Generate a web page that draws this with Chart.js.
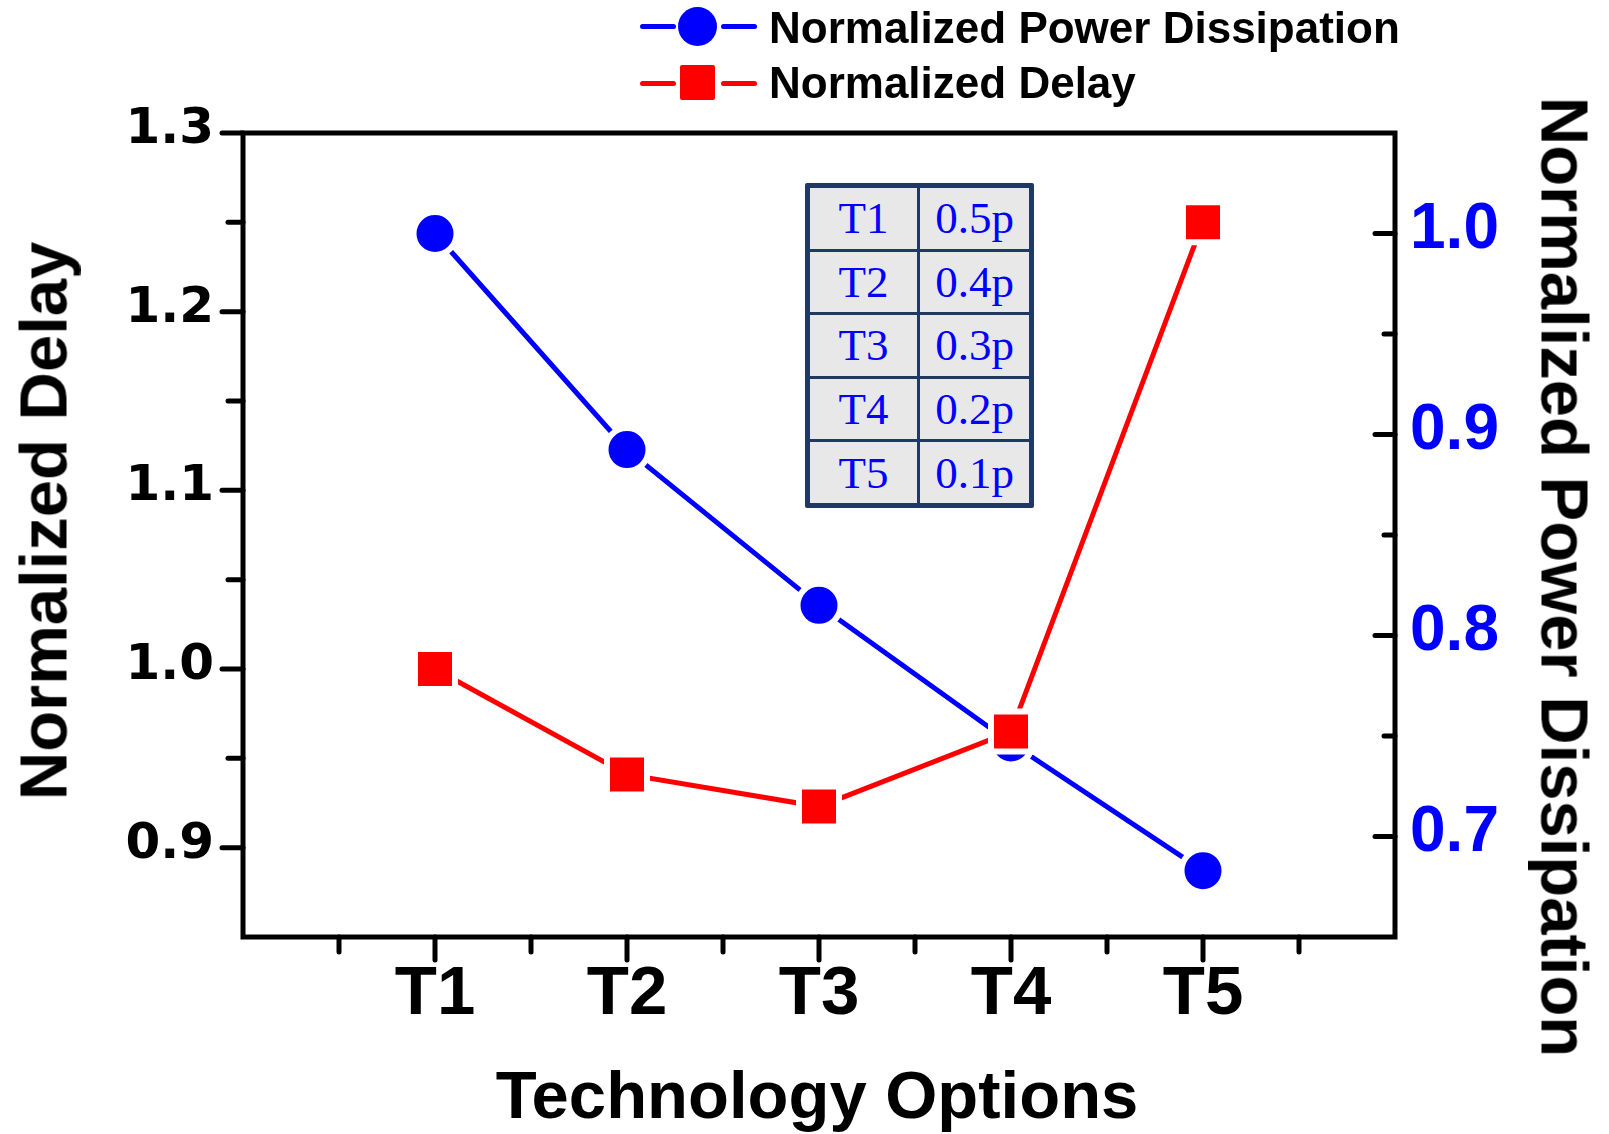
<!DOCTYPE html>
<html lang="en">
<head>
  <meta charset="UTF-8">
  <title>Normalized Delay and Power Dissipation</title>
  <script src="https://cdn.jsdelivr.net/npm/chart.js"></script>
  <style>
    body {
      margin: 0;
      background: #fff;
    }
    .wrap {
      position: relative;
      width: 1609px;
      height: 1134px;
      overflow: hidden;
      font-family: "Liberation Sans", Arial, sans-serif;
      font-weight: bold;
      color: #000;
    }
    #chart {
      position: absolute;
      left: 0;
      top: 0;
      width: 1609px;
      height: 1134px;
    }
    .title {
      position: absolute;
      font-size: 67px;
      line-height: 67px;
      white-space: nowrap;
    }
    .title.left {
      left: 43px;
      top: 521px;
      transform: translate(-50%, -50%) rotate(-90deg);
    }
    .title.right {
      left: 1565px;
      top: 577px;
      transform: translate(-50%, -50%) rotate(90deg);
    }
    .title.bottom {
      left: 817px;
      top: 1094px;
      transform: translate(-50%, -50%);
    }
    /* legend */
    .seg {
      position: absolute;
      width: 36px;
      height: 5px;
      border-radius: 3px;
    }
    .mark {
      position: absolute;
    }
    .legend-text {
      position: absolute;
      left: 769px;
      font-size: 44px;
      line-height: 44px;
      white-space: nowrap;
    }
    /* inset table */
    #pitch {
      position: absolute;
      left: 805px;
      top: 183px;
      width: 229px;
      height: 325px;
      box-sizing: border-box;
      border: 5px solid #1f3864;
      border-radius: 2px;
      border-spacing: 0;
      background: #e8e8e8;
      font-family: "Liberation Serif", "Times New Roman", serif;
      font-weight: normal;
      font-size: 45px;
      color: #0000ff;
    }
    #pitch td {
      text-align: center;
      padding: 0;
      border-right: 3px solid #1f3864;
      border-bottom: 3px solid #1f3864;
      height: 60px;
    }
    #pitch td:last-child { border-right: none; }
    #pitch tr:last-child td { border-bottom: none; }
  </style>
</head>
<body>
  <div class="wrap">
    <canvas id="chart" width="1609" height="1134"></canvas>

    <div class="seg" style="left:640px; top:24px; background:#0000ff;"></div>
    <div class="mark" style="left:678px; top:7px; width:39px; height:39px; border-radius:50%; background:#0000ff;"></div>
    <div class="seg" style="left:721px; top:24px; background:#0000ff;"></div>
    <div class="legend-text" style="top:6px;">Normalized Power Dissipation</div>

    <div class="seg" style="left:640px; top:81px; background:#ff0000;"></div>
    <div class="mark" style="left:680px; top:65px; width:35px; height:35px; border-radius:2px; background:#ff0000;"></div>
    <div class="seg" style="left:721px; top:81px; background:#ff0000;"></div>
    <div class="legend-text" style="top:61px;">Normalized Delay</div>

    <div class="title left">Normalized Delay</div>
    <div class="title right">Normalized Power Dissipation</div>
    <div class="title bottom">Technology Options</div>

    <table id="pitch"></table>
  </div>

  <script>
    // categories
    const techLabels = ['T1', 'T2', 'T3', 'T4', 'T5'];
    const techPositions = [1, 2, 3, 4, 5];
    const pitchValues = ['0.5p', '0.4p', '0.3p', '0.2p', '0.1p'];

    // series
    const delayValues = [1.0, 0.941, 0.923, 0.965, 1.25];
    const powerValues = [1.0, 0.8925, 0.815, 0.7465, 0.683];

    // tick positions
    const delayTicks = [0.9, 1.0, 1.1, 1.2, 1.3];
    const delayMinorTicks = [0.95, 1.05, 1.15, 1.25];
    const powerTicks = [0.7, 0.8, 0.9, 1.0];
    const powerMinorTicks = [0.75, 0.85, 0.95];
    const xMinorTicks = [0.5, 1.5, 2.5, 3.5, 4.5, 5.5];

    // inset table
    const table = document.getElementById('pitch');
    table.innerHTML = techLabels.map((t, i) =>
      `<tr><td style="width:107px">${t}</td><td>${pitchValues[i]}</td></tr>`).join('');

    // frame + major/minor ticks, Origin style
    const axisFrame = {
      id: 'axisFrame',
      afterDraw(chart) {
        const { ctx, chartArea: a, scales } = chart;
        const line = (x1, y1, x2, y2) => {
          ctx.beginPath();
          ctx.moveTo(x1, y1);
          ctx.lineTo(x2, y2);
          ctx.stroke();
        };
        ctx.save();
        ctx.strokeStyle = '#000';
        ctx.lineWidth = 5;
        ctx.lineCap = 'round';
        delayTicks.forEach(v => { const y = scales.y.getPixelForValue(v); line(a.left - 21, y, a.left, y); });
        delayMinorTicks.forEach(v => { const y = scales.y.getPixelForValue(v); line(a.left - 15, y, a.left, y); });
        powerTicks.forEach(v => { const y = scales.y2.getPixelForValue(v); line(a.right - 20, y, a.right, y); });
        powerMinorTicks.forEach(v => { const y = scales.y2.getPixelForValue(v); line(a.right - 11, y, a.right, y); });
        techPositions.forEach(v => { const x = scales.x.getPixelForValue(v); line(x, a.bottom, x, a.bottom + 23); });
        xMinorTicks.forEach(v => { const x = scales.x.getPixelForValue(v); line(x, a.bottom, x, a.bottom + 15); });
        ctx.lineCap = 'square';
        ctx.strokeRect(a.left, a.top, a.right - a.left, a.bottom - a.top);
        ctx.restore();
      }
    };

    const toPoints = vals => vals.map((v, i) => ({ x: techPositions[i], y: v }));

    new Chart(document.getElementById('chart'), {
      type: 'line',
      data: {
        datasets: [
          {
            label: 'Normalized Delay',
            data: toPoints(delayValues),
            yAxisID: 'y',
            order: 0,
            borderColor: '#ff0000',
            borderWidth: 5,
            pointStyle: 'rect',
            pointRadius: 28.3,
            pointBackgroundColor: '#ff0000',
            pointBorderColor: '#ffffff',
            pointBorderWidth: 6,
            tension: 0
          },
          {
            label: 'Normalized Power Dissipation',
            data: toPoints(powerValues),
            yAxisID: 'y2',
            order: 1,
            borderColor: '#0000ff',
            borderWidth: 5,
            pointStyle: 'circle',
            pointRadius: 21.5,
            pointBackgroundColor: '#0000ff',
            pointBorderColor: '#ffffff',
            pointBorderWidth: 6,
            tension: 0
          }
        ]
      },
      options: {
        responsive: false,
        animation: false,
        events: [],
        layout: { padding: { top: 133, left: 0, right: 0, bottom: 0 } },
        plugins: {
          legend: { display: false },
          tooltip: { enabled: false }
        },
        scales: {
          x: {
            type: 'linear',
            min: 0,
            max: 6,
            grid: { display: false, drawTicks: false },
            border: { display: false },
            afterBuildTicks: s => { s.ticks = techPositions.map(v => ({ value: v })); },
            afterFit: s => { s.height = 197; },
            ticks: {
              autoSkip: false,
              maxRotation: 0,
              padding: 17,
              color: '#000',
              font: { family: 'Liberation Sans', weight: 'bold', size: 69 },
              callback: (v, i) => techLabels[i]
            }
          },
          y: {
            position: 'left',
            min: 0.85,
            max: 1.3,
            grid: { display: false, drawTicks: false },
            border: { display: false },
            afterBuildTicks: s => { s.ticks = delayTicks.map(v => ({ value: v })); },
            afterFit: s => { s.width = 243; },
            ticks: {
              padding: 29,
              labelOffset: -3,
              color: '#000',
              font: { family: 'DejaVu Sans', weight: 'bold', size: 50 },
              callback: v => v.toFixed(1)
            }
          },
          y2: {
            position: 'right',
            min: 0.65,
            max: 1.05,
            grid: { display: false, drawTicks: false },
            border: { display: false },
            afterBuildTicks: s => { s.ticks = powerTicks.map(v => ({ value: v })); },
            afterFit: s => { s.width = 214; },
            ticks: {
              padding: 15,
              labelOffset: -3,
              color: '#0000ff',
              font: { family: 'Liberation Sans', weight: 'bold', size: 64 },
              callback: v => v.toFixed(1)
            }
          }
        }
      },
      plugins: [axisFrame]
    });
  </script>
</body>
</html>
